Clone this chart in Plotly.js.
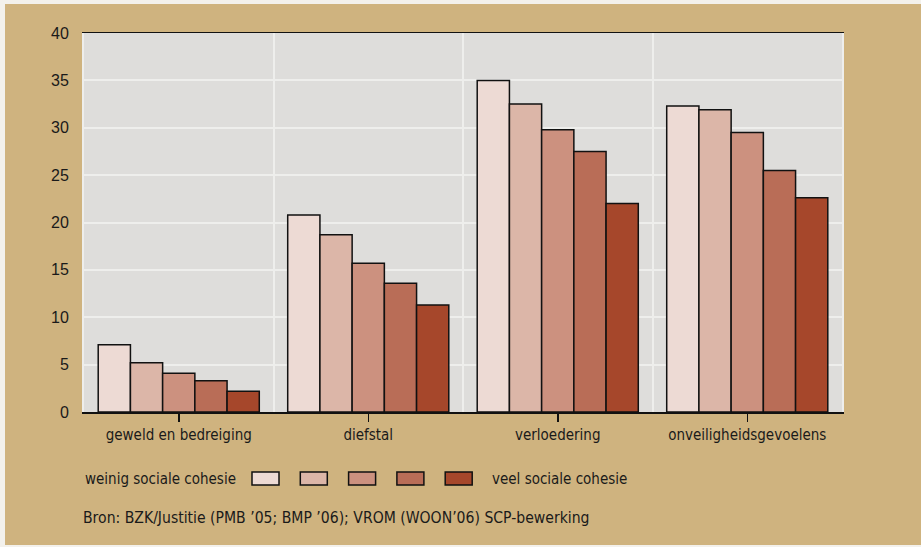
<!DOCTYPE html>
<html>
<head>
<meta charset="utf-8">
<script src="https://cdn.plot.ly/plotly-3.0.1.min.js"></script>
<style>
html,body{margin:0;padding:0;background:#f3f1ec;width:921px;height:547px;overflow:hidden;}
#chart{position:absolute;left:5px;top:4px;width:916px;height:541px;}
</style>
</head>
<body>
<div id="chart"></div>
<script>
const categories = ["geweld en bedreiging", "diefstal", "verloedering", "onveiligheidsgevoelens"];
const seriesNames = ["weinig sociale cohesie", "2", "3", "4", "veel sociale cohesie"];
const s1 = [7.1, 20.8, 35.0, 32.3];
const s2 = [5.2, 18.7, 32.5, 31.9];
const s3 = [4.1, 15.7, 29.8, 29.5];
const s4 = [3.3, 13.6, 27.5, 25.5];
const s5 = [2.2, 11.3, 22.0, 22.6];
const seriesValues = [s1, s2, s3, s4, s5];
const colors = ["#eddad4", "#dcb6a8", "#cc917f", "#b96d57", "#a6472b"];
const yTicks = [0, 5, 10, 15, 20, 25, 30, 35, 40];
const legendLeft = "weinig sociale cohesie";
const legendRight = "veel sociale cohesie";
const source = "Bron: BZK/Justitie (PMB \u201905; BMP \u201906); VROM (WOON\u201906) SCP-bewerking";

const narrow = '"Liberation Sans Narrow", "DejaVu Sans Condensed", Arial, sans-serif';
const traces = seriesValues.map((v, i) => ({
  type: "bar", x: categories, y: v, name: seriesNames[i],
  marker: {color: colors[i], line: {color: "#111", width: 1.5}},
  showlegend: false, hoverinfo: "none"
}));
// invisible trace to carry boundary gridlines on a secondary axis
traces.push({type: "scatter", x: [-0.5, 3.5], y: [0, 0], xaxis: "x2", mode: "none", showlegend: false, hoverinfo: "none"});

const shapes = [];
const annotations = [];
const W = 916, H = 541, ml = 79, mr = 79, mt = 29, mb = 133;
const pw = W - ml - mr, ph = H - mt - mb;
function px(x){return (x - 5 - ml) / pw;}
function py(y){return 1 - (y - 4 - mt) / ph;}
const boxStart = 252, boxStep = 48.3, boxW = 27;
colors.forEach((c, i) => {
  const x0 = boxStart + i * boxStep;
  shapes.push({type: "rect", xref: "paper", yref: "paper", x0: px(x0), x1: px(x0 + boxW), y0: py(485), y1: py(472),
    fillcolor: c, line: {color: "#111", width: 1.5}});
});
annotations.push({xref: "paper", yref: "paper", x: px(83), y: py(479), xanchor: "left", yanchor: "middle", showarrow: false,
  text: legendLeft, font: {family: narrow, size: 15, color: "#1a1a1a"}});
annotations.push({xref: "paper", yref: "paper", x: px(490), y: py(479), xanchor: "left", yanchor: "middle", showarrow: false,
  text: legendRight, font: {family: narrow, size: 15, color: "#1a1a1a"}});
annotations.push({xref: "paper", yref: "paper", x: px(81), y: py(518), xanchor: "left", yanchor: "middle", showarrow: false,
  text: source, font: {family: narrow, size: 15.6, color: "#1a1a1a"}});

const layout = {
  width: W, height: H,
  margin: {l: ml, r: mr, t: mt, b: mb, pad: 0},
  paper_bgcolor: "#cfb37f", plot_bgcolor: "#dedddb",
  barmode: "group", bargap: 0.15, bargroupgap: 0,
  xaxis: {type: "category", showgrid: false, showline: true, linecolor: "#111", linewidth: 1.5, mirror: true,
    ticks: "outside", ticklen: 8, tickwidth: 1.5, tickcolor: "#111",
    tickfont: {family: narrow, size: 15, color: "#1a1a1a"}, fixedrange: true, zeroline: false},
  xaxis2: {overlaying: "x", range: [-0.5, 3.5], tick0: 0.5, dtick: 1, showgrid: true, gridcolor: "#eeeeec", gridwidth: 2,
    showticklabels: false, ticks: "", zeroline: false, showline: false, layer: "below traces"},
  yaxis: {range: [0, 40], tickvals: yTicks, ticktext: yTicks.map(String), showgrid: true, gridcolor: "#eeeeec", gridwidth: 2,
    showline: true, linecolor: "#eeeeec", linewidth: 2, mirror: true, ticks: "", ticklabelstandoff: 10,
    tickfont: {family: "Liberation Sans, Arial, sans-serif", size: 16, color: "#1a1a1a"}, zeroline: false},
  shapes: shapes, annotations: annotations, font: {family: narrow}
};
Plotly.newPlot("chart", traces, layout, {displayModeBar: false, staticPlot: true});
</script>
</body>
</html>
